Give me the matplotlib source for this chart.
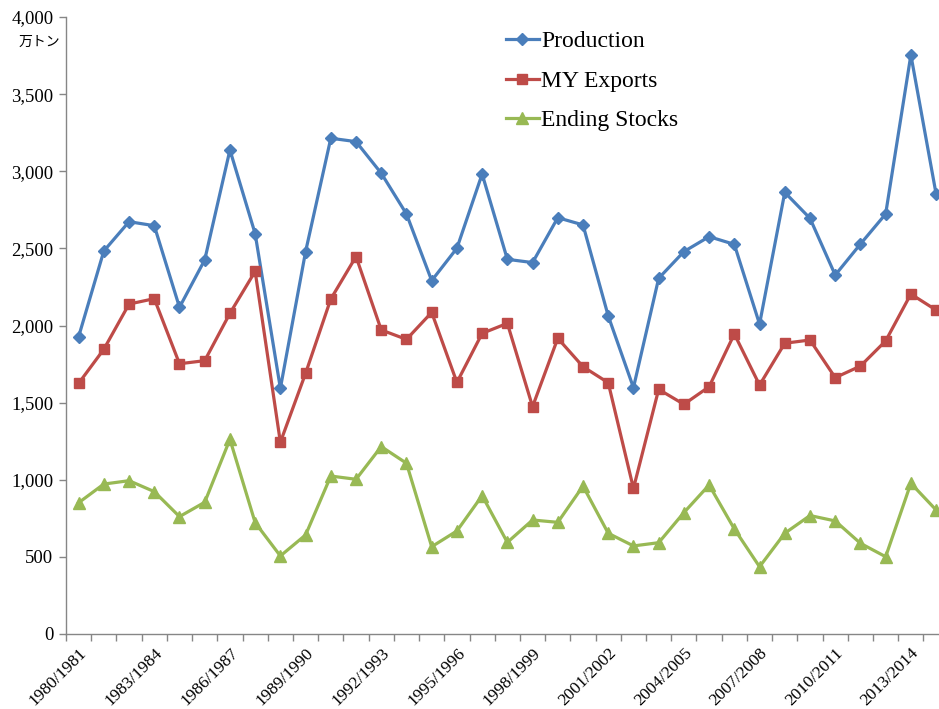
import matplotlib.pyplot as plt
from matplotlib.ticker import FuncFormatter

# Marketing years 1980/1981 .. 2014/2015
years = [f"{y}/{y + 1}" for y in range(1980, 2015)]

production = [1927, 2483, 2673, 2647, 2118, 2425, 3138, 2595, 1593, 2479,
              3214, 3192, 2987, 2723, 2291, 2501, 2982, 2429, 2408, 2699,
              2652, 2062, 1597, 2306, 2479, 2576, 2526, 2009, 2863, 2695,
              2327, 2528, 2723, 3754, 2853]
exports = [1625, 1846, 2139, 2174, 1752, 1772, 2079, 2351, 1243, 1690,
           2172, 2447, 1971, 1910, 2085, 1631, 1949, 2014, 1474, 1917,
           1733, 1629, 944, 1586, 1489, 1603, 1945, 1614, 1885, 1906,
           1662, 1737, 1900, 2204, 2100]
stocks = [851, 972, 994, 923, 761, 854, 1262, 722, 506, 642,
          1024, 1003, 1215, 1107, 566, 668, 897, 594, 739, 724,
          959, 653, 571, 592, 787, 966, 681, 436, 653, 768,
          733, 588, 501, 977, 804]

serif = ['Liberation Serif', 'DejaVu Serif']
plt.rcParams['font.family'] = serif

fig = plt.figure(figsize=(9.39, 7.09), dpi=100)
ax = fig.add_axes([66 / 939, 75 / 709, 873 / 939, 617 / 709])

x = list(range(len(years)))
ax.plot(x, production, color='#4A7EBB', lw=2.3, marker='D', ms=6.5, label='Production')
ax.plot(x, exports, color='#BE4B48', lw=2.3, marker='s', ms=7.5, label='MY Exports')
ax.plot(x, stocks, color='#98B954', lw=2.3, marker='^', ms=8.5, label='Ending Stocks')

ax.set_yticks(range(0, 4001, 500))
ax.yaxis.set_major_formatter(FuncFormatter(lambda v, p: f"{int(v):,}"))

# category labels every 3 years, tick marks on category boundaries
ax.set_xticks(x[::3])
ax.set_xticklabels(years[::3], rotation=45, ha='right', va='top', rotation_mode='anchor')
ax.set_xticks([i - 0.5 for i in range(len(years) + 1)], minor=True)
ax.tick_params(axis='x', which='major', length=0, pad=8, labelsize=12.5)
ax.tick_params(axis='x', which='minor', length=5, color='#868686', width=1)
ax.tick_params(axis='y', length=5, color='#868686', width=1, labelsize=13.5, pad=4)

# limits after ticks (set_xticks would widen the view); right edge is cut off
ax.set_xlim(-0.5, -0.5 + 873 / 25.22)
ax.set_ylim(0, 4000)

for s in ['top', 'right']:
    ax.spines[s].set_visible(False)
for s in ['left', 'bottom']:
    ax.spines[s].set_color('#868686')
    ax.spines[s].set_linewidth(1)

fig.text(39 / 939, 1 - 42 / 709, '万トン', fontsize=10, ha='center', va='center',
         family=['Noto Sans CJK JP', 'DejaVu Sans'])

ax.legend(loc='upper left', bbox_to_anchor=(494 / 939, 1 - 19 / 709),
          bbox_transform=fig.transFigure, frameon=False, fontsize=17,
          handlelength=1.4, handletextpad=0.1, labelspacing=0.76, borderpad=0)

fig.savefig('out.png', dpi=100)
